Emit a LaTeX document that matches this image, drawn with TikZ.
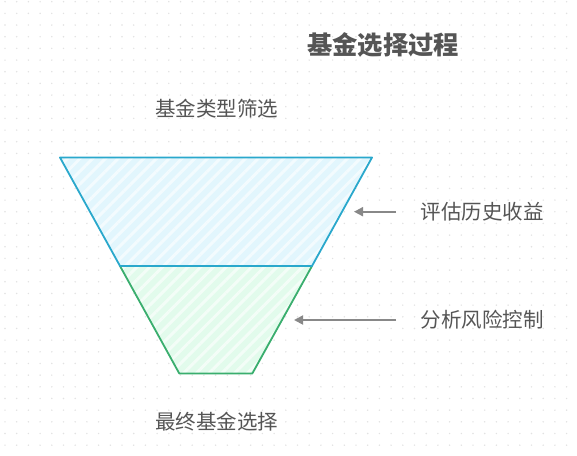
\documentclass[tikz,border=0pt]{standalone}
\usepackage{fontspec}
\newfontfamily\cjk{Noto Sans CJK SC}
\usetikzlibrary{arrows.meta,patterns.meta}
\definecolor{txt}{HTML}{555555}
\definecolor{dotc}{HTML}{E2E2E2}
\definecolor{topfill}{HTML}{E2F6FD}
\definecolor{topline}{HTML}{2AA8CC}
\definecolor{botfill}{HTML}{E2FBEC}
\definecolor{botline}{HTML}{3AAE6E}
\definecolor{arr}{HTML}{888888}
\tikzset{
  label/.style={font=\cjk\fontsize{20.5}{22}\selectfont, text=txt, inner sep=0pt},
  titlestyle/.style={font=\cjk\bfseries\fontsize{25.3}{28}\selectfont, text=txt, inner sep=0pt},
  stage/.style={line width=1.8pt, line join=round},
  pointer/.style={draw=arr, line width=1.8pt, -{Triangle[length=9pt,width=9pt]}},
}
\begin{document}
\begin{tikzpicture}[x=1pt,y=-1pt]
\useasboundingbox (0,0) rectangle (577,455);
\fill[white] (0,0) rectangle (577,455);
% dotted background
\foreach \i in {0,...,49}{
  \foreach \j in {0,...,39}{
    \fill[dotc] ({5+11.7*\i},{1.7+11.67*\j}) circle (0.8);
  }
}
% funnel stages
\path[fill=topfill, postaction={pattern={Lines[angle=45,distance=9pt,line width=3pt]}, pattern color=white!60!topfill}]
  (60,157.5) -- (372,157.5) -- (312,266) -- (120,266) -- cycle;
\path[fill=botfill, postaction={pattern={Lines[angle=45,distance=9pt,line width=3pt]}, pattern color=white!60!botfill}]
  (120,266) -- (312,266) -- (252.3,373.5) -- (179.3,373.5) -- cycle;
\draw[stage, draw=botline] (120,266) -- (179.3,373.5) -- (252.3,373.5) -- (312,266);
\draw[stage, draw=topline] (120,266) -- (60,157.5) -- (372,157.5) -- (312,266) -- cycle;
% labels
\node[titlestyle] (title) at (383,45) {基金选择过程};
\node[label] (top) at (216.5,109) {基金类型筛选};
\node[label] (bottom) at (216.5,421.5) {最终基金选择};
\node[label, anchor=west] (ret) at (420.5,212) {评估历史收益};
\node[label, anchor=west] (risk) at (420.5,320) {分析风险控制};
% pointers
\coordinate (retS) at (396,211.7);
\coordinate (retT) at (354,211.7);
\coordinate (riskS) at (396,320);
\coordinate (riskT) at (294,320);
\draw[pointer] (retS) -- (retT);
\draw[pointer] (riskS) -- (riskT);
\end{tikzpicture}
\end{document}
